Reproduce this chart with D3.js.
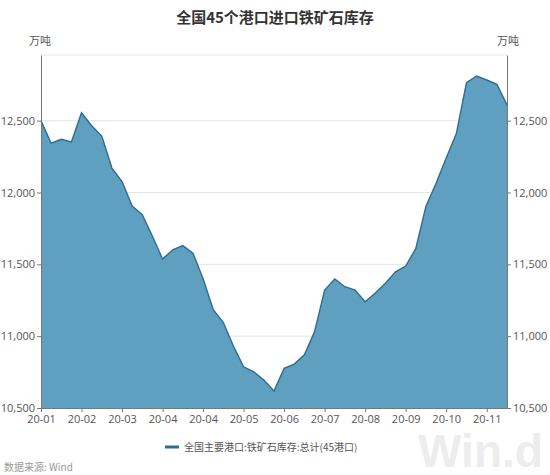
<!DOCTYPE html>
<html>
<head>
<meta charset="utf-8">
<script src="https://cdn.jsdelivr.net/npm/d3@7/dist/d3.min.js"></script>
<style>
  body { margin: 0; padding: 0; background: #fff; }
  svg { display: block; font-family: "Noto Sans CJK SC", "Open Sans", sans-serif; }
</style>
</head>
<body>
<svg id="chart" width="550" height="475"></svg>
<script>
// weekly inventory, 10k tonnes
const values = [
  12500, 12343, 12370, 12352, 12555, 12465, 12393, 12170, 12075, 11906,
  11845, 11695, 11537, 11600, 11630, 11578, 11400, 11185, 11095, 10930,
  10787, 10752, 10694, 10618, 10776, 10806, 10870, 11030, 11321, 11398,
  11344, 11321, 11240, 11300, 11368, 11448, 11488, 11611, 11905, 12064,
  12240, 12410, 12765, 12811, 12783, 12753, 12610
];
const tickIdx = [0, 4, 8, 12, 16, 20, 24, 28, 32, 36, 40, 44];
const tickLabels = ["20-01", "20-02", "20-03", "20-04", "20-04", "20-05",
                    "20-06", "20-07", "20-08", "20-09", "20-10", "20-11"];
const yTicks = [10500, 11000, 11500, 12000, 12500];

const svg = d3.select("#chart");
const plotL = 41, plotR = 507, plotT = 55, plotB = 408;

let x = d3.scaleLinear().domain([0, values.length - 1]).range([plotL, plotR]);
let y = d3.scaleLinear().domain([10500, 12957]).range([plotB, plotT]);

// watermark
svg.append("text")
  .attr("x", 418).attr("y", 467)
  .attr("textLength", 125).attr("lengthAdjust", "spacingAndGlyphs")
  .style("font-family", "Liberation Sans, Arial, sans-serif")
  .style("font-weight", "bold")
  .style("font-size", "46px")
  .style("fill", "#ededed")
  .text("Win.d");

// title
svg.append("text")
  .attr("x", 275).attr("y", 23)
  .attr("text-anchor", "middle")
  .style("font-size", "15px").style("font-weight", "bold").style("fill", "#333")
  .text("全国45个港口进口铁矿石库存");

svg.append("text").attr("x", 40).attr("y", 45).attr("text-anchor", "middle")
  .style("font-size", "11px").style("fill", "#555").text("万吨");
svg.append("text").attr("x", 508).attr("y", 45).attr("text-anchor", "middle")
  .style("font-size", "11px").style("fill", "#555").text("万吨");

// grid
svg.append("g").selectAll("line")
  .data(yTicks.slice(1))
  .enter().append("line")
  .attr("x1", plotL).attr("x2", plotR)
  .attr("y1", d => y(d)).attr("y2", d => y(d))
  .style("stroke", "#e6e6e6").style("stroke-width", 1);
svg.append("line")
  .attr("x1", plotL).attr("x2", plotR).attr("y1", plotT).attr("y2", plotT)
  .style("stroke", "#e6e6e6");

// area
let area = d3.area()
  .x((d, i) => x(i))
  .y0(y(10500))
  .y1(d => y(d));
let line = d3.line()
  .x((d, i) => x(i))
  .y(d => y(d));

svg.append("path")
  .attr("d", area(values))
  .style("fill", "#5f9fc0");
svg.append("path")
  .attr("d", line(values))
  .style("fill", "none")
  .style("stroke", "#2f6d8d")
  .style("stroke-width", 1.4);

// axes
const fmt = d3.format(",");
let yLeft = d3.axisLeft(y).tickValues(yTicks).tickFormat(fmt).tickSize(4).tickPadding(2);
let yRight = d3.axisRight(y).tickValues(yTicks).tickFormat(fmt).tickSize(4).tickPadding(2);
let xAxis = d3.axisBottom(x).tickValues(tickIdx)
  .tickFormat((d, i) => tickLabels[i]).tickSize(4).tickPadding(3);

function styleAxis(g) {
  g.select(".domain").style("stroke", "#777");
  g.selectAll(".tick line").style("stroke", "#777");
  g.selectAll(".tick text")
    .style("font-size", "11px")
    .style("fill", "#555")
    .style("font-family", "Open Sans, sans-serif");
}

svg.append("g").attr("transform", `translate(${plotL},0)`)
  .call(yLeft.tickSizeOuter(0)).call(styleAxis);
svg.append("g").attr("transform", `translate(${plotR},0)`)
  .call(yRight.tickSizeOuter(0)).call(styleAxis);
svg.append("g").attr("transform", `translate(0,${plotB})`)
  .call(xAxis.tickSizeOuter(0)).call(styleAxis);

// legend
svg.append("line")
  .attr("x1", 165).attr("x2", 179).attr("y1", 447).attr("y2", 447)
  .style("stroke", "#2f6d8d").style("stroke-width", 3);
svg.append("text")
  .attr("x", 184).attr("y", 451)
  .style("font-size", "10px").style("fill", "#555")
  .text("全国主要港口:铁矿石库存:总计(45港口)");

svg.append("text")
  .attr("x", 4).attr("y", 471)
  .style("font-size", "10px").style("fill", "#999")
  .text("数据来源: Wind");
</script>
</body>
</html>
